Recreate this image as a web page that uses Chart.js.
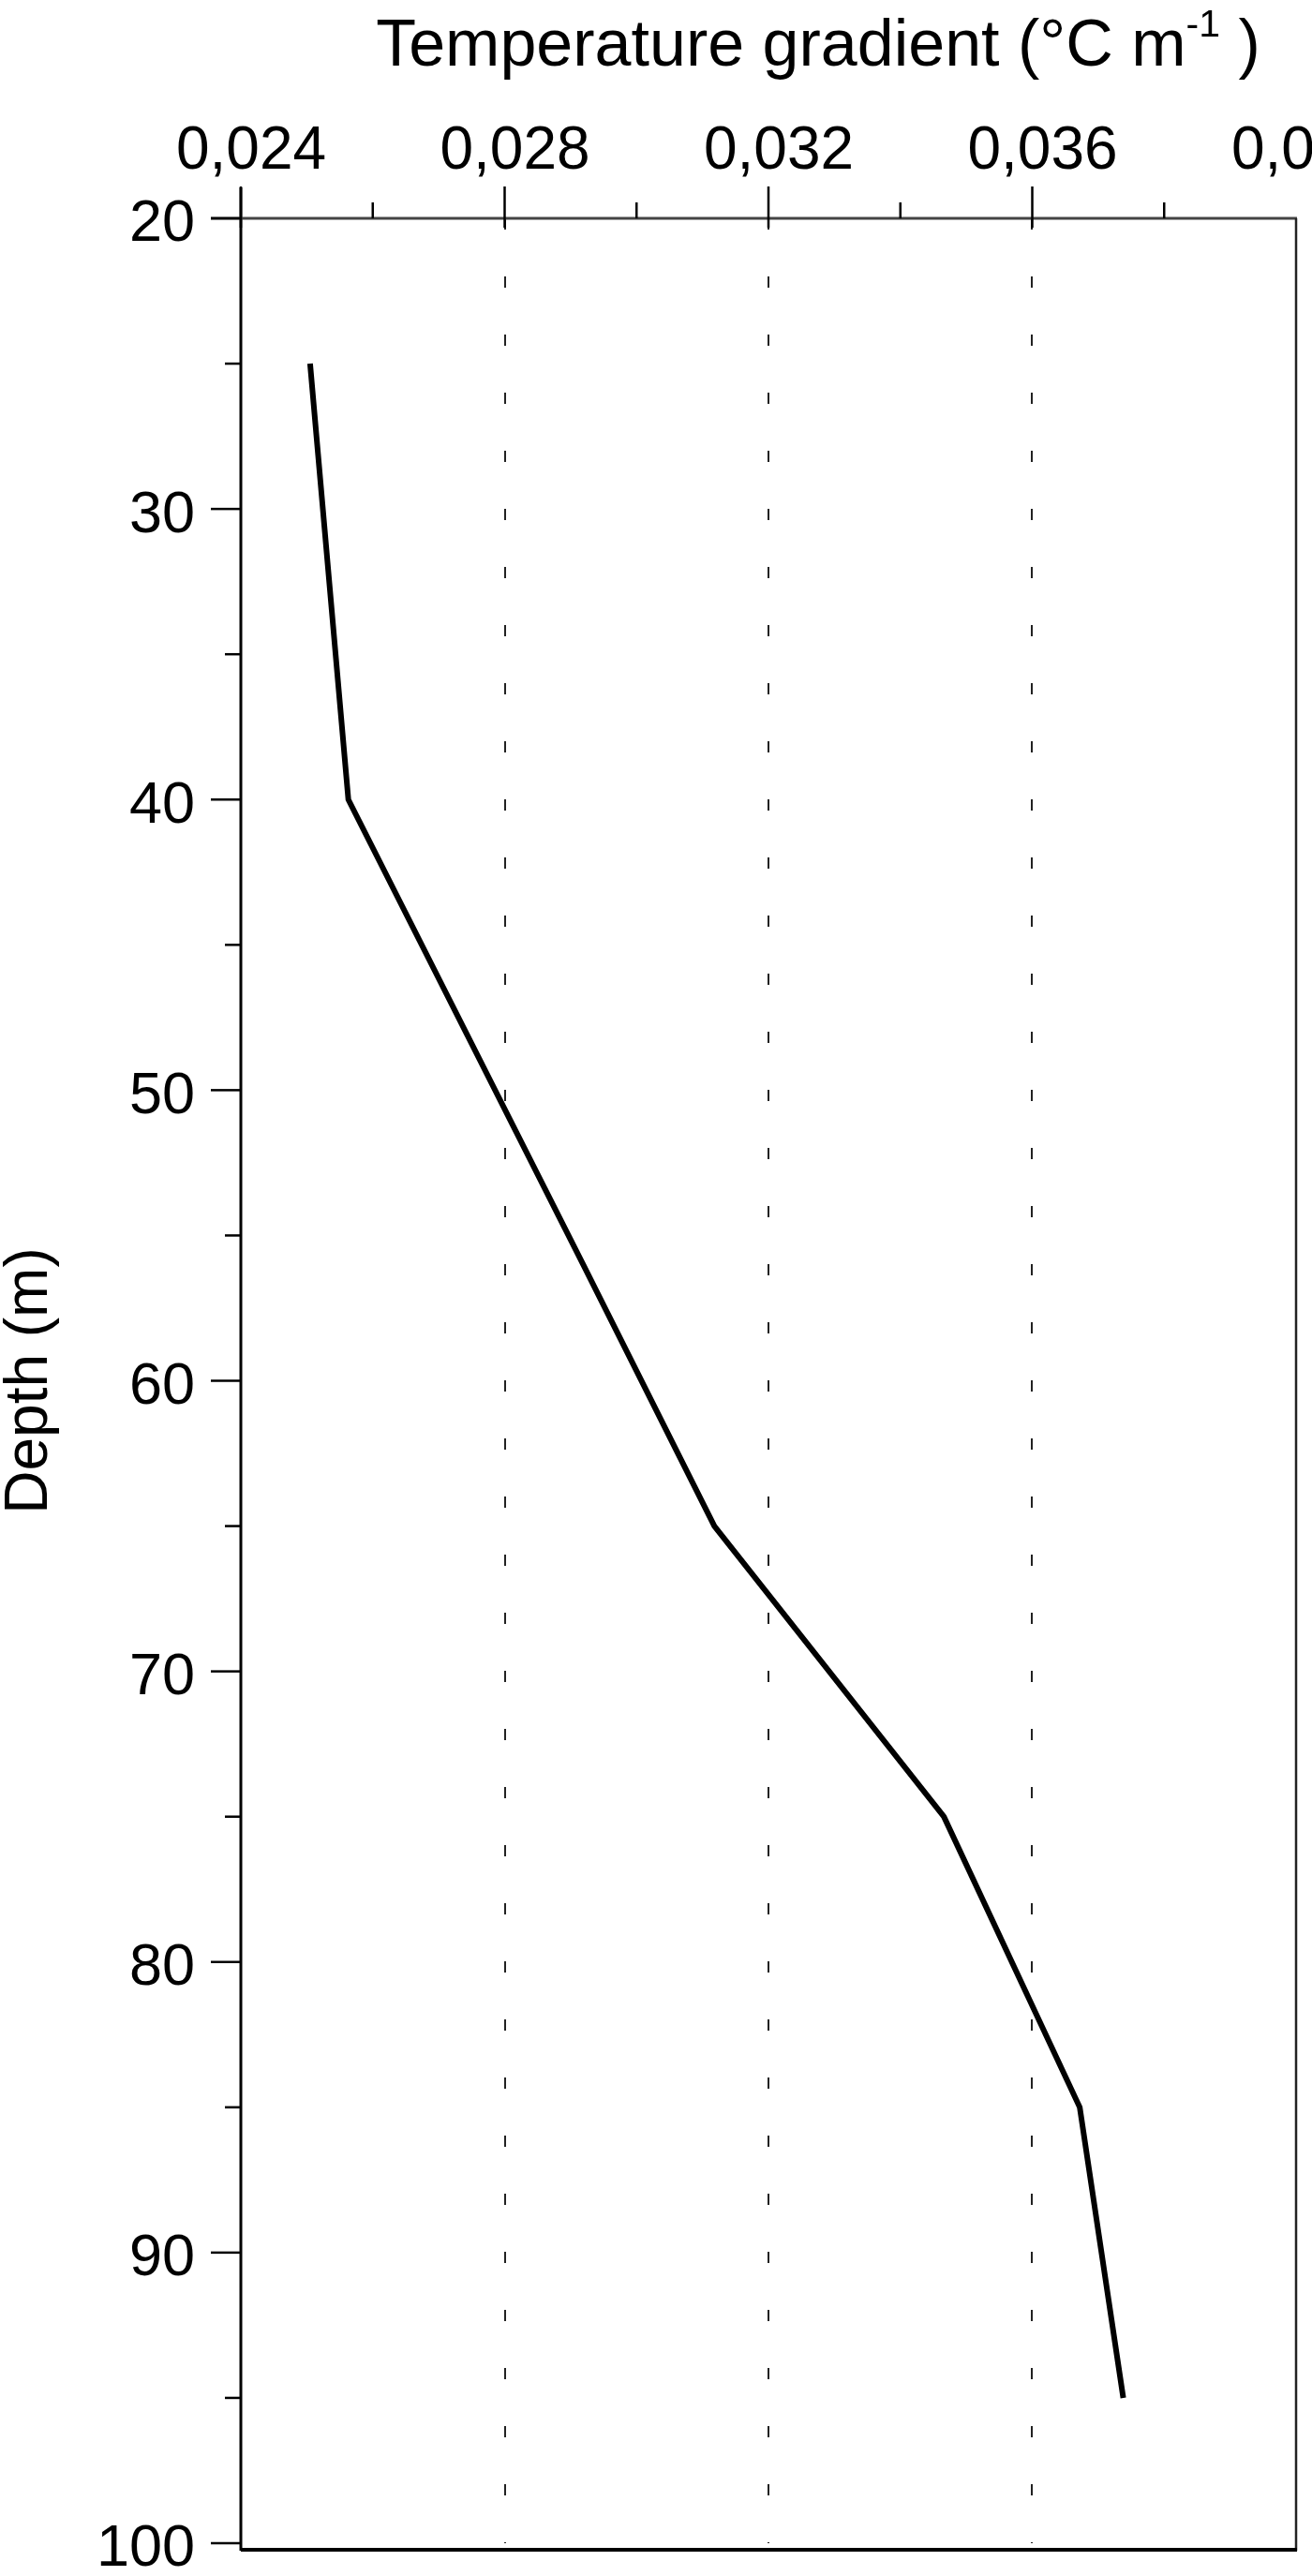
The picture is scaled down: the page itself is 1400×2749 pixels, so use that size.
<!DOCTYPE html>
<html>
<head>
<meta charset="utf-8">
<title>Temperature gradient vs depth</title>
<script src="https://cdn.jsdelivr.net/npm/chart.js@4.4.0/dist/chart.umd.min.js"></script>
<style>
  html, body { margin: 0; padding: 0; background: #fff; }
  canvas { display: block; }
</style>
</head>
<body>
<canvas id="chart" width="1400" height="2749"></canvas>
<script>
// Data (depth in m, gradient in °C/m)
const depths = [25, 40, 56, 65, 75, 85, 95];
const gradients = [0.02505, 0.02563, 0.02919, 0.03118, 0.03466, 0.03672, 0.03738];

// Axes
const xTicks = [0.024, 0.028, 0.032, 0.036, 0.040];
const xMinorTicks = [0.026, 0.030, 0.034, 0.038];
const yTicks = [20, 30, 40, 50, 60, 70, 80, 90, 100];
const yMinorTicks = [25, 35, 45, 55, 65, 75, 85, 95];
const xTitle = 'Temperature gradient (°C m';
const xTitleSup = '-1';
const yTitle = 'Depth (m)';

const FONT = '"Liberation Sans", Arial, Helvetica, sans-serif';

const points = depths.map((d, i) => ({ x: gradients[i], y: d }));

const near = (a, b) => Math.abs(a - b) < 1e-7;

// Frame, tick marks and top title
const framePlugin = {
    id: 'frame',
    afterDraw(chart) {
        const ctx = chart.ctx;
        const xs = chart.scales.x;
        const ys = chart.scales.y;
        const a = chart.chartArea;

        ctx.save();
        ctx.strokeStyle = '#000';
        ctx.lineCap = 'butt';

        // left axis
        ctx.lineWidth = 3;
        ctx.beginPath();
        ctx.moveTo(a.left, a.top - 33);
        ctx.lineTo(a.left, a.bottom + 8);
        ctx.stroke();

        // top axis
        ctx.strokeStyle = '#444';
        ctx.beginPath();
        ctx.moveTo(a.left - 32, a.top);
        ctx.lineTo(a.right + 1, a.top);
        ctx.stroke();

        // right border
        ctx.strokeStyle = '#222';
        ctx.lineWidth = 2.5;
        ctx.beginPath();
        ctx.moveTo(a.right, a.top);
        ctx.lineTo(a.right, a.bottom + 8);
        ctx.stroke();

        // bottom border
        ctx.strokeStyle = '#000';
        ctx.lineWidth = 4;
        ctx.beginPath();
        ctx.moveTo(a.left, a.bottom + 7);
        ctx.lineTo(a.right + 1, a.bottom + 7);
        ctx.stroke();

        // x ticks (top)
        ctx.lineWidth = 2.5;
        xTicks.slice(0, -1).forEach(v => {
            const px = xs.getPixelForValue(v);
            ctx.beginPath();
            ctx.moveTo(px, a.top - 34);
            ctx.lineTo(px, a.top + 10);
            ctx.stroke();
        });
        xMinorTicks.forEach(v => {
            const px = xs.getPixelForValue(v);
            ctx.beginPath();
            ctx.moveTo(px, a.top - 17);
            ctx.lineTo(px, a.top);
            ctx.stroke();
        });

        // y ticks (left)
        yTicks.forEach(v => {
            const py = ys.getPixelForValue(v);
            ctx.beginPath();
            ctx.moveTo(a.left - 32, py);
            ctx.lineTo(a.left, py);
            ctx.stroke();
        });
        yMinorTicks.forEach(v => {
            const py = ys.getPixelForValue(v);
            ctx.beginPath();
            ctx.moveTo(a.left - 17, py);
            ctx.lineTo(a.left, py);
            ctx.stroke();
        });

        // x axis title with superscript
        ctx.fillStyle = '#000';
        ctx.textBaseline = 'alphabetic';
        ctx.font = '70px ' + FONT;
        const w1 = ctx.measureText(xTitle).width;
        ctx.font = '41px ' + FONT;
        const w2 = ctx.measureText(xTitleSup).width;
        ctx.font = '70px ' + FONT;
        const w3 = ctx.measureText(' )').width;
        const total = w1 + w2 + w3;
        const cx = (a.left + a.right) / 2 + 53;
        let tx = cx - total / 2;
        const base = 70;
        ctx.fillText(xTitle, tx, base);
        tx += w1;
        ctx.font = '41px ' + FONT;
        ctx.fillText(xTitleSup, tx, base - 31);
        tx += w2;
        ctx.font = '70px ' + FONT;
        ctx.fillText(' )', tx, base);

        ctx.restore();
    }
};

const ctx = document.getElementById('chart').getContext('2d');
new Chart(ctx, {
    type: 'scatter',
    data: {
        datasets: [{
            label: 'Temperature gradient',
            data: points,
            showLine: true,
            borderColor: '#000',
            backgroundColor: '#000',
            borderWidth: 6,
            pointRadius: 0,
            tension: 0
        }]
    },
    options: {
        responsive: false,
        animation: false,
        layout: {
            autoPadding: false,
            padding: { left: 0, top: 0, right: 17, bottom: 35 }
        },
        plugins: {
            legend: { display: false },
            tooltip: { enabled: false }
        },
        scales: {
            x: {
                type: 'linear',
                position: 'top',
                min: 0.024,
                max: 0.040,
                afterFit(scale) {
                    scale.height = 233;
                    scale.paddingLeft = 0;
                    scale.paddingRight = 0;
                },
                afterBuildTicks(scale) {
                    scale.ticks = xTicks.map(v => ({ value: v }));
                },
                border: { display: false, dash: [12, 50] },
                grid: {
                    drawTicks: false,
                    lineWidth: 2,
                    color(c) {
                        const v = c.tick ? c.tick.value : null;
                        if (v === null || near(v, 0.024) || near(v, 0.040)) return 'rgba(0,0,0,0)';
                        return '#222';
                    }
                },
                ticks: {
                    padding: 32,
                    labelOffset: 11,
                    color: '#000',
                    font: { family: FONT, size: 64 },
                    maxRotation: 0,
                    autoSkip: false,
                    callback: v => v.toFixed(3).replace('.', ',')
                }
            },
            y: {
                type: 'linear',
                reverse: true,
                min: 20,
                max: 100,
                afterFit(scale) {
                    scale.width = 257;
                    scale.paddingTop = 0;
                    scale.paddingBottom = 0;
                },
                afterBuildTicks(scale) {
                    scale.ticks = yTicks.map(v => ({ value: v }));
                },
                border: { display: false },
                grid: { display: false },
                ticks: {
                    padding: 41,
                    labelOffset: 7,
                    color: '#000',
                    font: { family: FONT, size: 63 },
                    autoSkip: false,
                    callback: v => String(v)
                },
                title: {
                    display: true,
                    text: yTitle,
                    color: '#000',
                    font: { family: FONT, size: 64, lineHeight: 1 },
                    padding: 0
                }
            }
        }
    },
    plugins: [framePlugin]
});
</script>
</body>
</html>
